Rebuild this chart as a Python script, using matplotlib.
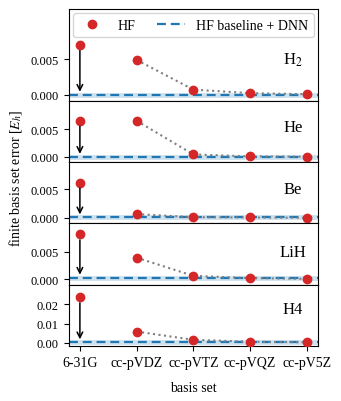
import matplotlib
matplotlib.use('Agg')
import matplotlib.pyplot as plt
from matplotlib.ticker import FormatStrFormatter
import numpy as np

plt.rcParams['font.family'] = 'serif'
plt.rcParams['font.serif'] = ['Liberation Serif', 'DejaVu Serif']
plt.rcParams['mathtext.fontset'] = 'stix'

basis_sets = ['6-31G', 'cc-pVDZ', 'cc-pVTZ', 'cc-pVQZ', 'cc-pV5Z']
systems = ['H$_2$', 'He', 'Be', 'LiH', 'H4']

# finite basis set error of HF, per basis set
hf_h2 = [0.0070, 0.0049, 0.0007, 0.0002, 0.00005]
hf_he = [0.0065, 0.0065, 0.0004, 0.00005, 0.0]
hf_be = [0.0062, 0.00064, 0.0001, 0.00005, 0.0]
hf_lih = [0.0081, 0.0039, 0.0006, 0.0002, 0.00005]
hf_h4 = [0.0237, 0.0058, 0.0015, 0.0005, 0.0002]
hf_errors = [hf_h2, hf_he, hf_be, hf_lih, hf_h4]

# HF baseline + DNN error (6-31G)
dnn_baseline = [0.0, 0.0, 0.0001, 0.0003, 0.0003]

ylims = [(-0.0009, 0.0121), (-0.001, 0.0101), (-0.001, 0.0098), (-0.001, 0.0101), (-0.0017, 0.0303)]
yticks = [[0, 0.005]] * 4 + [[0, 0.01, 0.02]]
label_y = [0.45, 0.57, 0.56, 0.54, 0.6]

RED = '#d62728'
BLUE = '#1f77b4'

fig, axes = plt.subplots(5, 1, figsize=(3.41, 4.02), dpi=100, sharex=True,
                         gridspec_kw={'height_ratios': [1.5, 1, 1, 1, 1], 'hspace': 0})
fig.subplots_adjust(left=0.201, right=0.933, top=0.975, bottom=0.137)

x = np.arange(len(basis_sets))
for idx, ax in enumerate(axes):
    err = hf_errors[idx]
    base = dnn_baseline[idx]
    ax.axhline(base, color=BLUE, alpha=0.22, lw=3.5, zorder=1)
    ax.axhline(base, color=BLUE, lw=1.6, dashes=(4, 2.2), zorder=2,
               label='HF baseline + DNN')
    ax.plot(x[1:], err[1:], ':', color='gray', lw=1.5, zorder=3)
    ax.plot(x, err, 'o', color=RED, ms=6, zorder=4, label='HF', linestyle='none')
    ax.annotate('', xy=(x[0], base), xytext=(x[0], err[0]),
                arrowprops=dict(arrowstyle='->', color='k', lw=1.1, shrinkA=4, shrinkB=2),
                zorder=5)
    ax.text(0.9, label_y[idx], systems[idx], transform=ax.transAxes,
            ha='center', va='center', fontsize=12)
    ax.set_ylim(*ylims[idx])
    ax.set_yticks(yticks[idx])
    if idx < 4:
        ax.yaxis.set_major_formatter(FormatStrFormatter('%.3f'))
        ax.tick_params(axis='x', bottom=False)
    else:
        ax.yaxis.set_major_formatter(FormatStrFormatter('%.2f'))
    ax.tick_params(axis='y', labelsize=9)
    ax.set_xlim(-0.2, 4.2)

axes[-1].set_xticks(x)
axes[-1].set_xticklabels(basis_sets, fontsize=10)
axes[-1].set_xlabel('basis set', fontsize=10, labelpad=9)
fig.text(0.044, 0.556, 'finite basis set error [$E_h$]', rotation=90,
         ha='center', va='center', fontsize=10)

handles, labels = axes[0].get_legend_handles_labels()
axes[0].legend(handles[::-1], labels[::-1], loc='upper center', ncol=2, fontsize=10,
               frameon=True, borderaxespad=0.3, handlelength=2.0, columnspacing=1.6)

plt.savefig('out.png', dpi=100)
